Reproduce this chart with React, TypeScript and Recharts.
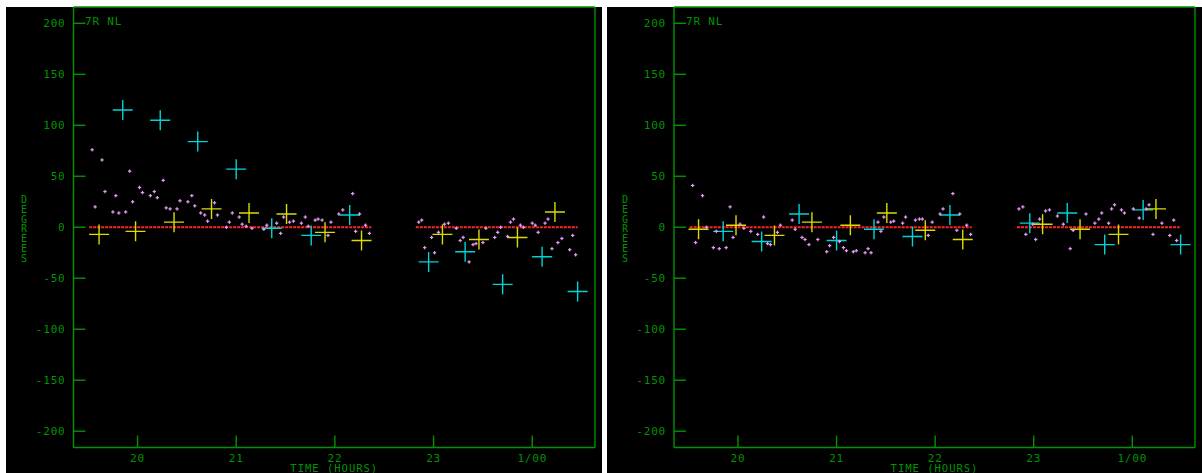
import React from 'react';
import { ComposedChart, Scatter, Line, XAxis, YAxis } from 'recharts';

// axis setup
const xTicks = [20, 21, 22, 23, 24];
const xTickLabels = ['20', '21', '22', '23', '1/00'];
const yTicks = [-200, -150, -100, -50, 0, 50, 100, 150, 200];
const xDomain = [19.351, 24.636];
const yDomain = [-216, 216];

// left panel  [time (h), degrees]
const leftCyan = [
  [19.85, 115], [20.23, 105], [20.61, 84], [21.0, 57], [21.36, -1], [21.76, -8],
  [22.15, 12], [22.95, -34], [23.32, -24], [23.7, -56], [24.1, -29], [24.46, -63],
];
const leftYellow = [
  [19.61, -7], [19.98, -4], [20.37, 5], [20.75, 18], [21.13, 14], [21.51, 13],
  [21.9, -5], [22.27, -13], [23.09, -7], [23.46, -12], [23.85, -10], [24.23, 15],
];
const leftRed1 = [[19.51, 0], [22.37, 0]];
const leftRed2 = [[22.82, 0], [24.46, 0]];
const leftPink = [
  [19.54, 76], [19.64, 66], [19.92, 55], [19.67, 35], [19.57, 20], [19.78, 31], [19.75, 15],
  [19.81, 14], [19.88, 15], [19.95, 25], [20.02, 39], [20.05, 34], [20.17, 35], [20.13, 31],
  [20.2, 29], [20.26, 46], [20.29, 19], [20.33, 18], [20.4, 18], [20.43, 26], [20.51, 25],
  [20.55, 31], [20.58, 21], [20.64, 14], [20.68, 12], [20.71, 6], [20.78, 24], [20.81, 12],
  [20.9, 0], [20.93, 5], [20.96, 14], [21.03, 10], [21.06, 3], [21.1, 1], [21.16, -1],
  [21.28, -2], [21.31, 2], [21.41, 4], [21.45, -6], [21.48, 10], [21.54, 5], [21.58, 6],
  [21.66, 4], [21.7, 10], [21.73, 1], [21.8, 7], [21.83, 8], [21.87, 7], [21.93, -8],
  [21.96, 5], [22.04, 13], [22.08, 17], [22.18, 33], [22.21, -4], [22.25, 13], [22.31, 2],
  [22.35, -6],
  [22.85, 5], [22.88, 7], [22.91, -20], [22.98, -10], [23.01, -25], [23.05, -5], [23.11, 3],
  [23.15, 4], [23.23, -1], [23.27, -13], [23.3, -10], [23.36, -34], [23.4, -17], [23.43, -16],
  [23.5, -15], [23.53, -1], [23.62, -10], [23.65, -5], [23.68, 0], [23.75, -9], [23.78, 5],
  [23.81, 8], [23.88, 2], [23.91, 0], [24.0, 4], [24.03, 2], [24.06, -5], [24.13, 4],
  [24.16, 8], [24.2, -21], [24.26, -15], [24.3, -11], [24.38, -22], [24.41, -8], [24.44, -27],
];

// right panel
const rightCyan = [
  [19.85, -4], [20.24, -14], [20.62, 13], [21.0, -13], [21.38, -2], [21.77, -9],
  [22.15, 12], [22.96, 4], [23.34, 14], [23.72, -17], [24.11, 17], [24.49, -17],
];
const rightYellow = [
  [19.6, -2], [19.98, 2], [20.37, -8], [20.75, 5], [21.14, 2], [21.51, 14],
  [21.9, -3], [22.28, -12], [23.09, 3], [23.47, -2], [23.86, -7], [24.24, 18],
];
const rightRed1 = [[19.51, 0], [22.37, 0]];
const rightRed2 = [[22.83, 0], [24.48, 0]];
const rightPink = [
  [19.54, 41], [19.64, 31], [19.92, 20], [19.57, -15], [19.68, 0], [19.78, -4], [19.95, -10],
  [20.02, 3], [20.06, -1], [20.13, -4], [20.2, -7], [20.26, 10], [20.3, -16], [20.33, -17],
  [20.4, -5], [20.43, 2], [19.75, -20], [19.81, -21], [19.88, -20], [20.55, 7], [20.58, -2],
  [20.65, -10], [20.68, -12], [20.72, -17], [20.81, -12], [20.9, -24], [20.93, -18],
  [20.97, -10], [21.03, -14], [21.07, -20], [21.1, -23], [21.17, -24], [21.2, -23],
  [21.29, -25], [21.32, -21], [21.35, -25], [21.42, 5], [21.45, -4], [21.48, 10], [21.55, 5],
  [21.58, 6], [21.67, 4], [21.7, 10], [21.8, 7], [21.84, 8], [21.87, 8], [21.93, -8],
  [21.97, 5], [22.05, 13], [22.08, 18], [22.18, 33], [22.22, -3], [22.25, 13], [22.32, 2],
  [22.36, -7],
  [22.85, 18], [22.89, 20], [22.92, -7], [22.99, 3], [23.02, -12], [23.06, 8], [23.12, 16],
  [23.16, 17], [23.24, 11], [23.3, 3], [23.37, -21], [23.4, -3], [23.53, 13], [23.62, 4],
  [23.66, 8], [23.69, 14], [23.76, 4], [23.79, 18], [23.82, 22], [23.89, 17], [23.92, 14],
  [24.01, 18], [24.07, 9], [24.14, 18], [24.17, 22], [24.21, -7], [24.3, 4], [24.38, -8],
  [24.42, 7], [24.45, -13],
];

const GREEN = '#009400';
const CYAN = '#00d4d8';
const YELLOW = '#dcdc00';
const PINK = '#e69cf6';
const RED = '#ff2424';
const MONO = '"DejaVu Sans Mono", "Liberation Mono", monospace';

const toPts = (a: number[][]) => a.map(([t, v]) => ({ t, v }));

const BigCross = (props: any) => {
  const { cx, cy, color } = props;
  return (
    <g>
      <line x1={cx - 10} y1={cy} x2={cx + 10} y2={cy} stroke={color} strokeWidth={1.4} />
      <line x1={cx} y1={cy - 10} x2={cx} y2={cy + 10} stroke={color} strokeWidth={1.4} />
    </g>
  );
};

const SmallPlus = (props: any) => {
  const { cx, cy } = props;
  return (
    <g>
      <rect x={cx - 1.7} y={cy - 0.6} width={3.4} height={1.2} fill={PINK} />
      <rect x={cx - 0.6} y={cy - 1.7} width={1.2} height={3.4} fill={PINK} />
    </g>
  );
};

const tickStyle = { fill: GREEN, fontSize: 11, fontFamily: MONO, letterSpacing: 0.8 };

function Panel({ left, width, yWidth, title, cyan, yellow, pink, red1, red2 }: any) {
  return (
    <>
      <div style={{ position: 'absolute', left, top: 7, width, height: 466, background: '#000' }} />
      <div style={{ position: 'absolute', left, top: 6 }}>
        <ComposedChart width={width} height={467} margin={{ top: 0, right: 0, bottom: 0, left: 0 }}>
          <XAxis
            xAxisId={0}
            dataKey="t"
            type="number"
            domain={xDomain}
            allowDataOverflow
            ticks={xTicks}
            tickFormatter={(v: number) => xTickLabels[xTicks.indexOf(v)] ?? String(v)}
            height={25.5}
            tickSize={-12}
            tickMargin={19}
            tick={tickStyle}
            axisLine={{ stroke: GREEN, strokeWidth: 1.4 }}
            tickLine={{ stroke: GREEN, strokeWidth: 1.4 }}
            interval={0}
            label={{ value: 'TIME (HOURS)', position: 'insideBottom', offset: 1, fill: GREEN, fontSize: 10.5, fontFamily: MONO, letterSpacing: 1 }}
          />
          <XAxis
            xAxisId="top"
            orientation="top"
            type="number"
            domain={xDomain}
            allowDataOverflow
            ticks={xTicks}
            height={1}
            tickSize={-12}
            tick={false}
            axisLine={{ stroke: GREEN, strokeWidth: 1.4 }}
            tickLine={{ stroke: GREEN, strokeWidth: 1.4 }}
            interval={0}
          />
          <YAxis
            yAxisId={0}
            dataKey="v"
            type="number"
            domain={yDomain}
            allowDataOverflow
            ticks={yTicks}
            width={yWidth}
            tickSize={-12}
            tickMargin={20}
            tick={tickStyle}
            axisLine={{ stroke: GREEN, strokeWidth: 1.4 }}
            tickLine={{ stroke: GREEN, strokeWidth: 1.4 }}
            interval={0}
          />
          <YAxis
            yAxisId="r"
            orientation="right"
            type="number"
            domain={yDomain}
            allowDataOverflow
            ticks={yTicks}
            width={7}
            tickSize={-12}
            tick={false}
            axisLine={{ stroke: GREEN, strokeWidth: 1.4 }}
            tickLine={{ stroke: GREEN, strokeWidth: 1.4 }}
            interval={0}
          />
          <Scatter data={toPts(cyan)} dataKey="v" isAnimationActive={false}
            shape={(p: any) => <BigCross {...p} color={CYAN} />} />
          <Scatter data={toPts(yellow)} dataKey="v" isAnimationActive={false}
            shape={(p: any) => <BigCross {...p} color={YELLOW} />} />
          <Line data={toPts(red1)} dataKey="v" type="linear" stroke={RED} strokeWidth={1.8}
            strokeDasharray="3 1" dot={false} isAnimationActive={false} />
          <Line data={toPts(red2)} dataKey="v" type="linear" stroke={RED} strokeWidth={1.8}
            strokeDasharray="3 1" dot={false} isAnimationActive={false} />
          <Scatter data={toPts(pink)} dataKey="v" isAnimationActive={false}
            shape={(p: any) => <SmallPlus {...p} />} />
        </ComposedChart>
      </div>
      <div style={{ position: 'absolute', left: left + 79, top: 16, color: GREEN, fontFamily: MONO, fontSize: 11, lineHeight: '11px', letterSpacing: 0.8, whiteSpace: 'pre' }}>
        {title}
      </div>
      <div style={{ position: 'absolute', left: left + 13, top: 195, width: 10, color: GREEN, fontFamily: MONO, fontSize: 10, lineHeight: '9.8px', textAlign: 'center' }}>
        {'DEGREES'.split('').map((ch, i) => <div key={i}>{ch}</div>)}
      </div>
    </>
  );
}

export default function App() {
  return (
    <div style={{ position: 'absolute', left: 0, top: 0, width: 1202, height: 473, background: '#fff', overflow: 'hidden' }}>
      <Panel left={6} width={596} yWidth={67.5} title="7R NL"
        cyan={leftCyan} yellow={leftYellow} pink={leftPink} red1={leftRed1} red2={leftRed2} />
      <Panel left={607} width={595} yWidth={67} title="7R NL"
        cyan={rightCyan} yellow={rightYellow} pink={rightPink} red1={rightRed1} red2={rightRed2} />
    </div>
  );
}
